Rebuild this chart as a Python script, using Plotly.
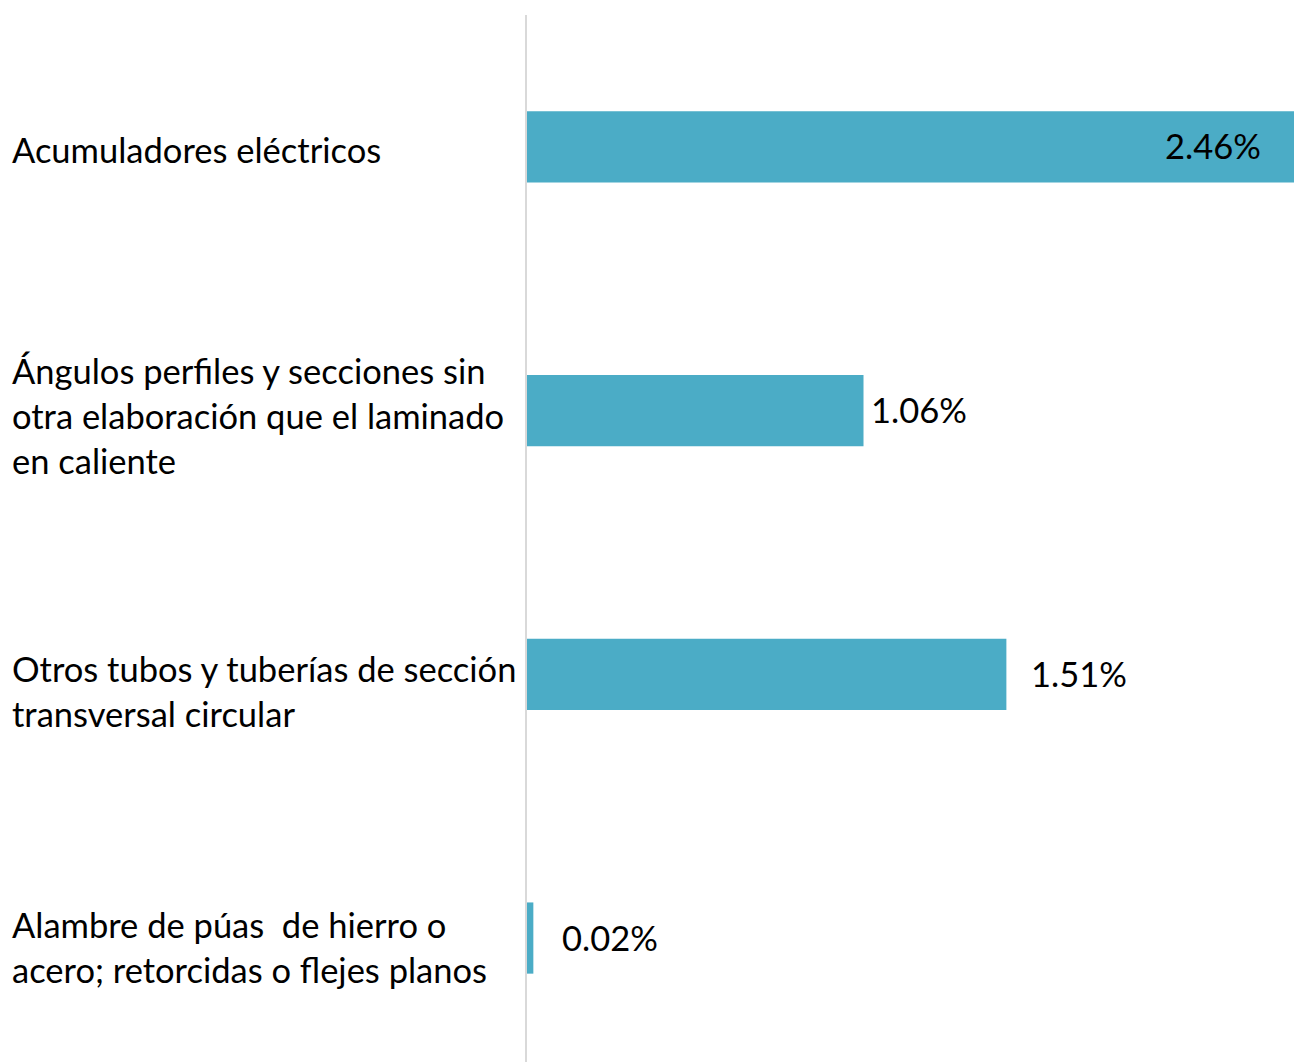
import plotly.graph_objects as go

categories = [
    "Acumuladores eléctricos",
    "Ángulos perfiles y secciones sin<br>otra elaboración que el laminado<br>en caliente",
    "Otros tubos y tuberías de sección<br>transversal circular",
    "Alambre de púas  de hierro o<br>acero; retorcidas o flejes planos",
]
values = [2.46, 1.06, 1.51, 0.02]
value_labels = ["2.46%", "1.06%", "1.51%", "0.02%"]

XMAX = 2.416
BAR_COLOR = "#4BACC6"
FONT = "Lato"
FSIZE = 34.5

fig = go.Figure()
fig.add_trace(go.Bar(
    y=categories, x=values, orientation="h",
    marker=dict(color=BAR_COLOR, line=dict(width=0)),
    width=0.27, hoverinfo="skip",
))

label_yshift = [-3, -5, -17, -9]
for cat, ys in zip(categories, label_yshift):
    fig.add_annotation(
        xref="paper", yref="y", x=0, y=cat, xshift=-517, yshift=ys,
        text=cat, showarrow=False, xanchor="left", yanchor="middle", align="left",
        font=dict(family=FONT, size=FSIZE, color="#000000"),
    )

value_xshift = [-31, 5, 23, 27]
for cat, v, lab, xs in zip(categories, values, value_labels, value_xshift):
    inside = v > XMAX
    fig.add_annotation(
        xref="x", yref="y", x=min(v, XMAX), y=cat, xshift=xs, yshift=1,
        text=lab, showarrow=False, xanchor="right" if inside else "left", yanchor="middle",
        font=dict(family=FONT, size=FSIZE, color="#000000"),
    )

fig.update_layout(
    width=1294, height=1062,
    margin=dict(l=527, r=0, t=15, b=0),
    plot_bgcolor="white", paper_bgcolor="white",
    showlegend=False,
    font=dict(family=FONT, size=FSIZE, color="#000000"),
)
fig.update_xaxes(range=[0, XMAX], visible=False, showgrid=False, zeroline=False, fixedrange=True)
fig.update_yaxes(
    range=[3.47, -0.5], showticklabels=False, showgrid=False, zeroline=False,
    showline=True, linecolor="#D9D9D9", linewidth=2, ticks="", fixedrange=True,
)

fig.write_html(
    "out.html",
    config={"displayModeBar": False},
    post_script="document.body.style.margin='0';document.body.style.overflow='hidden';",
)
